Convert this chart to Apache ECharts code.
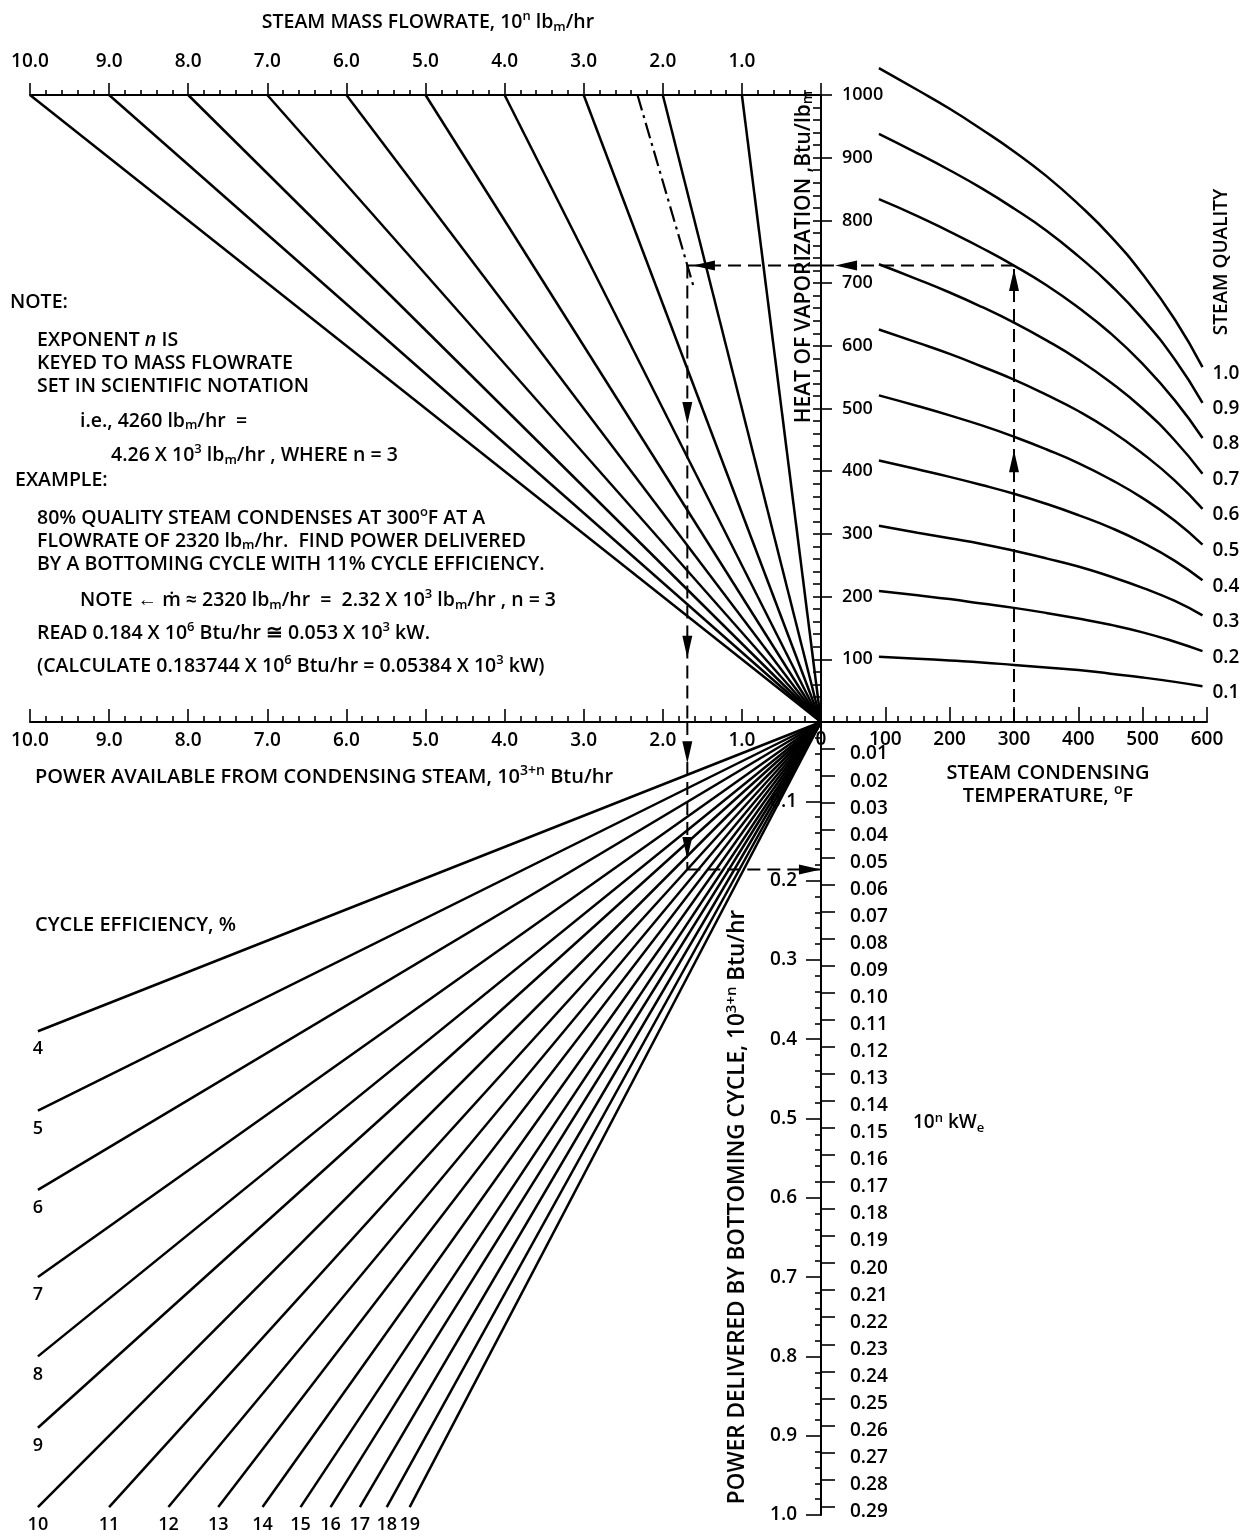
<!DOCTYPE html>
<html><head><meta charset="utf-8">
<script src="https://cdn.jsdelivr.net/npm/echarts@6/dist/echarts.min.js"></script>
<style>html,body{margin:0;padding:0;background:#fff}#c{width:1250px;height:1538px}</style>
</head><body><div id="c"></div>
<script>
// ---------------- data ----------------
const massFlowLines = [10, 9, 8, 7, 6, 5, 4, 3, 2, 1];          // 10^n lbm/hr
const exampleMassFlow = 2.32;
const tempF = [90, 150, 200, 250, 300, 350, 400, 450, 500, 550, 593];
const quality10 = [1043, 1008, 978, 945, 910, 871, 826, 775, 714, 642, 566];
const quality09 = [938, 907, 880, 851, 819, 784, 743, 697, 643, 578, 509];
const quality08 = [834, 807, 782, 756, 728, 697, 661, 620, 571, 513, 453];
const quality07 = [730, 706, 685, 662, 637, 609, 578, 542, 500, 449, 396];
const quality06 = [626, 605, 587, 567, 546, 522, 496, 465, 428, 385, 340];
const quality05 = [521, 504, 489, 473, 455, 435, 413, 387, 357, 321, 283];
const quality04 = [417, 403, 391, 378, 364, 348, 330, 310, 286, 257, 226];
const quality03 = [313, 302, 293, 284, 273, 261, 248, 232, 214, 193, 170];
const quality02 = [209, 202, 196, 189, 182, 174, 165, 155, 143, 128, 113];
const quality01 = [104, 101, 98, 95, 91, 87, 83, 77, 71, 64, 57];
const qualityLabels = ['1.0', '0.9', '0.8', '0.7', '0.6', '0.5', '0.4', '0.3', '0.2', '0.1'];
const efficiencyPct = [4, 5, 6, 7, 8, 9, 10, 11, 12, 13, 14, 15, 16, 17, 18, 19];
const effEndAvailable = [9.9, 9.9, 9.9, 9.9, 9.9, 9.9, 9.9, 9.0, 8.25, 7.62, 7.06, 6.58, 6.2, 5.83, 5.49, 5.2];
const effEndDelivered = [0.39, 0.49, 0.59, 0.70, 0.80, 0.89, 0.99, 0.99, 0.99, 0.99, 0.99, 0.99, 0.99, 0.99, 0.99, 0.99];
const kweTicks = [0.01,0.02,0.03,0.04,0.05,0.06,0.07,0.08,0.09,0.10,0.11,0.12,0.13,0.14,0.15,0.16,0.17,0.18,0.19,0.20,0.21,0.22,0.23,0.24,0.25,0.26,0.27,0.28,0.29];
const kweAtFullScale = 0.2931;   // 1.0 x 10^(3+n) Btu/hr in 10^n kWe
// worked example
const exampleTemp = 300, exampleHeat = 728, exampleAvail = 1.69, exampleDelivered = 0.186, exampleDashEndHeat = 690;
const arrowsUpTR = [[300, 416], [300, 705]];
const arrowsLeftTR = [[39, 728]];
const arrowsLeftTL = [[1.48, 728]];
const arrowsDownTL = [[1.69, 493], [1.69, 120]];
const arrowsDownB = [[1.69, 0.038], [1.69, 0.159]];
const arrowsRightB = [[0.14, 0.186]];

// ---------------- chart ----------------
const FONT = "'Open Sans', sans-serif";
const K = '#000';
const chart = echarts.init(document.getElementById('c'), null, {renderer: 'canvas'});
const lbl = (o) => Object.assign({show: true, color: K, fontSize: 19, fontFamily: FONT, fontWeight: 600}, o);
const line = (w) => ({show: true, onZero: false, lineStyle: {color: K, width: w}});
const tick = (len, inside) => ({show: true, inside: inside, length: len, lineStyle: {color: K, width: 1.6}});
const minor = (n, len) => ({show: true, splitNumber: n, length: len, lineStyle: {color: K, width: 1.6}});
const noSplit = {show: false};

const qualitySets = [quality10, quality09, quality08, quality07, quality06, quality05, quality04, quality03, quality02, quality01];

const series = [];
massFlowLines.forEach(m => series.push({
  type: 'line', xAxisIndex: 0, yAxisIndex: 0, symbol: 'none', silent: true,
  data: [[0, 0], [m, 1000]], lineStyle: {color: K, width: 2.5}
}));
series.push({
  type: 'line', xAxisIndex: 0, yAxisIndex: 0, symbol: 'none', silent: true,
  data: [[exampleMassFlow, 1000], [exampleMassFlow * exampleDashEndHeat / 1000, exampleDashEndHeat]],
  lineStyle: {color: K, width: 2.2, type: [16, 5, 3, 5]}
});
qualitySets.forEach(q => series.push({
  type: 'line', xAxisIndex: 2, yAxisIndex: 2, symbol: 'none', smooth: true, clip: false, silent: true,
  data: tempF.map((t, i) => [t, q[i]]), lineStyle: {color: K, width: 2.5}
}));
series.push({
  type: 'scatter', xAxisIndex: 2, yAxisIndex: 2, symbolSize: 0, clip: false, silent: true, itemStyle: {opacity: 1, color: K},
  data: qualitySets.map((q, i) => ({value: [tempF[tempF.length - 1], q[q.length - 1]], name: qualityLabels[i]})),
  label: lbl({position: 'right', distance: 10, offset: [0, 6], formatter: p => p.name})
});
efficiencyPct.forEach((e, i) => series.push({
  type: 'line', xAxisIndex: 3, yAxisIndex: 3, symbol: 'none', silent: true,
  data: [[0, 0], [effEndAvailable[i], effEndDelivered[i]]], lineStyle: {color: K, width: 2.5}
}));
series.push({
  type: 'scatter', xAxisIndex: 3, yAxisIndex: 3, symbolSize: 0, clip: false, silent: true, itemStyle: {opacity: 1, color: K},
  data: efficiencyPct.map((e, i) => ({value: [effEndAvailable[i], effEndDelivered[i]], name: String(e)})),
  label: lbl({position: 'bottom', distance: 9, fontSize: 18, formatter: p => p.name})
});
// example dashed path
const dash = {color: K, width: 2, type: [13, 7]};
const dl = (xi, yi, d) => ({type: 'line', xAxisIndex: xi, yAxisIndex: yi, symbol: 'none', silent: true, clip: false, data: d, lineStyle: dash});
series.push(dl(2, 2, [[exampleTemp, 0], [exampleTemp, exampleHeat]]));
series.push(dl(2, 2, [[exampleTemp, exampleHeat], [0, exampleHeat]]));
series.push(dl(0, 0, [[0, exampleHeat], [exampleAvail, exampleHeat]]));
series.push(dl(0, 0, [[exampleAvail, exampleHeat], [exampleAvail, 0]]));
series.push(dl(3, 3, [[exampleAvail, 0], [exampleAvail, exampleDelivered]]));
series.push(dl(3, 3, [[exampleAvail, exampleDelivered], [0, exampleDelivered]]));
const arrow = (xi, yi, d, rot) => ({type: 'scatter', xAxisIndex: xi, yAxisIndex: yi, symbol: 'triangle', symbolSize: [10, 22], symbolRotate: rot, clip: false, silent: true, itemStyle: {color: K, opacity: 1}, data: d, z: 5});
series.push(arrow(2, 2, arrowsUpTR, 0));
series.push(arrow(2, 2, arrowsLeftTR, 90));
series.push(arrow(0, 0, arrowsLeftTL, 90));
series.push(arrow(0, 0, arrowsDownTL, 180));
series.push(arrow(3, 3, arrowsDownB, 180));
series.push(arrow(3, 3, arrowsRightB, -90));

const mkRich = (fs) => ({
  sup: {fontSize: Math.round(fs * 0.68), fontFamily: FONT, fontWeight: 600, fill: K, verticalAlign: 'top', padding: [0, 0, Math.round(fs * 0.55), 0]},
  sub: {fontSize: Math.round(fs * 0.68), fontFamily: FONT, fontWeight: 600, fill: K, verticalAlign: 'bottom', padding: [Math.round(fs * 0.45), 0, 0, 0]},
  it: {fontSize: fs, fontFamily: FONT, fontStyle: 'italic', fontWeight: 600, fill: K}
});
const txt = (x, y, text, fs, o) => Object.assign({
  type: 'text', x: x, y: y, silent: true,
  style: Object.assign({text: text, fill: K, fontSize: fs, fontFamily: FONT, fontWeight: 600, align: 'left', verticalAlign: 'middle', rich: mkRich(fs)}, (o && o.style) || {})
}, o && o.rotation !== undefined ? {rotation: o.rotation} : {});

const NF = 19.5;
const graphics = [
  txt(428, 22, 'STEAM MASS FLOWRATE, 10{sup|n} lb{sub|m}/hr', 19.5, {style: {align: 'center'}}),
  txt(10, 302, 'NOTE:', NF),
  txt(37, 340, 'EXPONENT {it|n} IS', NF),
  txt(37, 363, 'KEYED TO MASS FLOWRATE', NF),
  txt(37, 386, 'SET IN SCIENTIFIC NOTATION', NF),
  txt(80, 421, 'i.e., 4260 lb{sub|m}/hr  =', NF),
  txt(111, 455, '4.26 X 10{sup|3} lb{sub|m}/hr , WHERE n = 3', NF),
  txt(15, 480, 'EXAMPLE:', NF),
  txt(37, 518, '80% QUALITY STEAM CONDENSES AT 300{sup|o}F AT A', NF),
  txt(37, 541, 'FLOWRATE OF 2320 lb{sub|m}/hr.  FIND POWER DELIVERED', NF),
  txt(37, 564, 'BY A BOTTOMING CYCLE WITH 11% CYCLE EFFICIENCY.', NF),
  txt(80, 600, 'NOTE \u2190 m\u0307 \u2248 2320 lb{sub|m}/hr  =  2.32 X 10{sup|3} lb{sub|m}/hr , n = 3', NF),
  txt(37, 633, 'READ 0.184 X 10{sup|6} Btu/hr \u2245 0.053 X 10{sup|3} kW.', NF),
  txt(37, 666, '(CALCULATE 0.183744 X 10{sup|6} Btu/hr = 0.05384 X 10{sup|3} kW)', NF),
  txt(35, 777, 'POWER AVAILABLE FROM CONDENSING STEAM, 10{sup|3+n} Btu/hr', 20),
  txt(1048, 773, 'STEAM CONDENSING', 20, {style: {align: 'center'}}),
  txt(1048, 796, 'TEMPERATURE, {sup|o}F', 20, {style: {align: 'center'}}),
  txt(35, 925, 'CYCLE EFFICIENCY, %', 20),
  txt(913, 1123, '10{sup|n} kW{sub|e}', 19),
  txt(804, 257, 'HEAT OF VAPORIZATION ,Btu/lb{sub|m}', 21, {style: {align: 'center'}, rotation: Math.PI / 2}),
  txt(1222, 262, 'STEAM QUALITY', 19, {style: {align: 'center'}, rotation: Math.PI / 2}),
  txt(738, 1207, 'POWER DELIVERED BY BOTTOMING CYCLE, 10{sup|3+n} Btu/hr', 22.5, {style: {align: 'center'}, rotation: Math.PI / 2})
];

const option = {
  animation: false,
  backgroundColor: '#fff',
  grid: [
    {left: 30, top: 95, width: 791, height: 627, containLabel: false, outerBoundsMode: 'none'},
    {left: 821, top: 95, width: 386, height: 627, containLabel: false, outerBoundsMode: 'none'},
    {left: 30, top: 722, width: 791, height: 793, containLabel: false, outerBoundsMode: 'none'}
  ],
  xAxis: [
    {gridIndex: 0, type: 'value', position: 'bottom', min: 0, max: 10, interval: 1, inverse: true,
     axisLine: line(2), axisTick: tick(13, true), minorTick: minor(5, 6), splitLine: noSplit, minorSplitLine: noSplit,
     axisLabel: lbl({margin: 9, formatter: v => v === 0 ? '' : v.toFixed(1)})},
    {gridIndex: 0, type: 'value', position: 'top', min: 0, max: 10, interval: 1, inverse: true,
     axisLine: line(2), axisTick: tick(12, false), minorTick: minor(5, 5), splitLine: noSplit, minorSplitLine: noSplit,
     axisLabel: lbl({margin: 24, formatter: v => v === 0 ? '' : v.toFixed(1)})},
    {gridIndex: 1, type: 'value', position: 'bottom', min: 0, max: 600, interval: 100,
     axisLine: line(2), axisTick: tick(15, true), minorTick: minor(5, 6), splitLine: noSplit, minorSplitLine: noSplit,
     axisLabel: lbl({margin: 8})},
    {gridIndex: 2, type: 'value', show: false, min: 0, max: 10, inverse: true, splitLine: noSplit}
  ],
  yAxis: [
    {gridIndex: 0, type: 'value', position: 'right', min: 0, max: 1000, interval: 100,
     axisLine: line(2), axisTick: tick(11, false), splitLine: noSplit,
     axisLabel: lbl({margin: 21, fontSize: 18, formatter: v => v === 0 ? '' : String(v)})},
    {gridIndex: 0, type: 'value', position: 'right', min: 0, max: 1000, interval: 20,
     axisLine: {show: false}, axisTick: tick(8, true), splitLine: noSplit, axisLabel: {show: false}},
    {gridIndex: 1, type: 'value', show: false, min: 0, max: 1000, splitLine: noSplit},
    {gridIndex: 2, type: 'value', position: 'right', min: 0, max: 1, interval: 0.1, inverse: true,
     axisLine: line(2), axisTick: tick(15, true), minorTick: minor(5, 6), splitLine: noSplit, minorSplitLine: noSplit,
     axisLabel: lbl({inside: true, margin: 24, formatter: v => v === 0 ? '' : v.toFixed(1)})},
    {gridIndex: 2, type: 'value', position: 'right', min: 0, max: kweAtFullScale, inverse: true,
     axisLine: {show: false}, splitLine: noSplit,
     axisTick: {show: true, length: 14, customValues: kweTicks, lineStyle: {color: K, width: 1.6}},
     axisLabel: lbl({margin: 29, customValues: kweTicks, formatter: v => '{k|' + v.toFixed(2) + '}',
       rich: {k: {fontSize: 19, fontFamily: FONT, fontWeight: 600, color: K, padding: [10, 0, 0, 0]}}})}
  ],
  series: series,
  graphic: graphics
};
chart.setOption(option);
</script>
</body></html>
